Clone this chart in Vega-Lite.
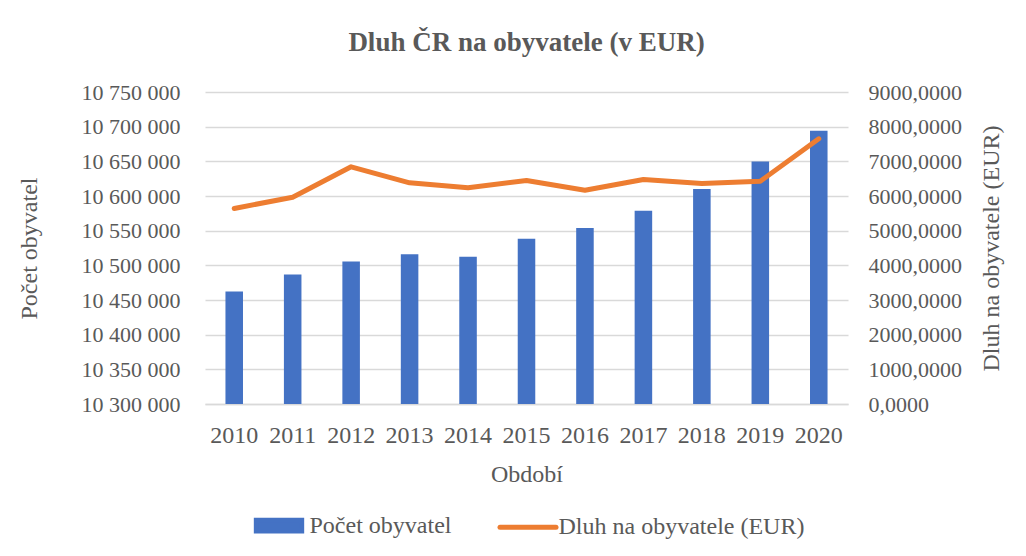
{
  "$schema": "https://vega.github.io/schema/vega-lite/v6.json",
  "autosize": {"type": "none"},
  "width": 643,
  "height": 312,
  "padding": {"left": 205, "top": 92, "right": 178, "bottom": 152},
  "background": "white",
  "config": {
    "locale": {"number": {"decimal": ",", "thousands": " ", "grouping": [3], "currency": ["", ""]}},
    "font": "Liberation Serif",
    "view": {"stroke": null},
    "axis": {"labelFont": "Liberation Serif", "titleFont": "Liberation Serif", "labelColor": "#595959", "titleColor": "#595959", "labelFontSize": 22, "titleFontSize": 24, "titleFontWeight": "normal"}
  },
  "title": {"text": "Dluh ČR na obyvatele (v EUR)", "font": "Liberation Serif", "fontSize": 27, "fontWeight": "bold", "color": "#595959", "anchor": "middle", "offset": 24},
  "data": {"values": [
    {"rok": "2010", "obyvatel": 10462088, "dluh": 5640},
    {"rok": "2011", "obyvatel": 10486731, "dluh": 5965},
    {"rok": "2012", "obyvatel": 10505445, "dluh": 6842},
    {"rok": "2013", "obyvatel": 10516125, "dluh": 6380},
    {"rok": "2014", "obyvatel": 10512419, "dluh": 6236},
    {"rok": "2015", "obyvatel": 10538275, "dluh": 6446},
    {"rok": "2016", "obyvatel": 10553843, "dluh": 6167},
    {"rok": "2017", "obyvatel": 10578820, "dluh": 6475},
    {"rok": "2018", "obyvatel": 10610055, "dluh": 6360},
    {"rok": "2019", "obyvatel": 10649800, "dluh": 6427},
    {"rok": "2020", "obyvatel": 10693939, "dluh": 7649}
  ]},
  "encoding": {
    "x": {"field": "rok", "type": "nominal", "title": "Období",
      "scale": {"paddingInner": 0.7, "paddingOuter": 0.35},
      "axis": {"labelAngle": 0, "ticks": false, "domainColor": "#D9D9D9", "domainWidth": 1.5, "labelFontSize": 24, "labelPadding": 19, "titlePadding": 15}}
  },
  "layer": [
    {
      "mark": {"type": "bar", "color": "#4472C4"},
      "encoding": {
        "y": {"field": "obyvatel", "type": "quantitative", "title": "Počet obyvatel",
          "scale": {"domain": [10300000, 10750000], "zero": false, "nice": false},
          "axis": {"values": [10300000, 10350000, 10400000, 10450000, 10500000, 10550000, 10600000, 10650000, 10700000, 10750000],
            "format": ",d", "ticks": false, "domain": false, "gridColor": "#D9D9D9", "gridWidth": 1.5, "labelPadding": 25, "titlePadding": 40}},
        "y2": {"datum": 10300000},
        "color": {"datum": "Počet obyvatel", "type": "nominal",
          "scale": {"domain": ["Počet obyvatel", "Dluh na obyvatele (EUR)"], "range": ["#4472C4", "#ED7D31"]},
          "legend": {"title": null, "orient": "none", "legendX": 43.5, "legendY": 403, "direction": "horizontal",
            "labelFont": "Liberation Serif", "labelFontSize": 24, "labelColor": "#595959", "symbolSize": 3136, "columnPadding": 38, "labelOffset": 0, "labelLimit": 400,
            "encode": {"symbols": {"update": {
              "shape": {"signal": "datum.value === 'Počet obyvatel' ? 'M-0.81,-0.19H0.81V0.19H-0.81Z' : 'stroke'"},
              "fill": {"signal": "datum.value === 'Počet obyvatel' ? '#4472C4' : 'transparent'"},
              "stroke": {"signal": "datum.value === 'Počet obyvatel' ? 'transparent' : '#ED7D31'"},
              "strokeWidth": {"value": 5},
              "strokeCap": {"value": "round"},
              "opacity": {"value": 1}, "fillOpacity": {"value": 1}, "strokeOpacity": {"value": 1}}}}}
        }
      }
    },
    {
      "mark": {"type": "line", "color": "#ED7D31", "strokeWidth": 5, "strokeCap": "round", "strokeJoin": "round"},
      "encoding": {
        "y": {"field": "dluh", "type": "quantitative", "title": "Dluh na obyvatele (EUR)",
          "scale": {"domain": [0, 9000], "nice": false},
          "axis": {"orient": "right", "values": [0, 1000, 2000, 3000, 4000, 5000, 6000, 7000, 8000, 9000], "format": ".4f",
            "grid": false, "ticks": false, "domain": false, "labelPadding": 20, "titleAngle": -90, "titleBaseline": "top", "titlePadding": 18}},
        "color": {"datum": "Dluh na obyvatele (EUR)", "type": "nominal"}
      }
    }
  ],
  "resolve": {"scale": {"y": "independent"}}
}
